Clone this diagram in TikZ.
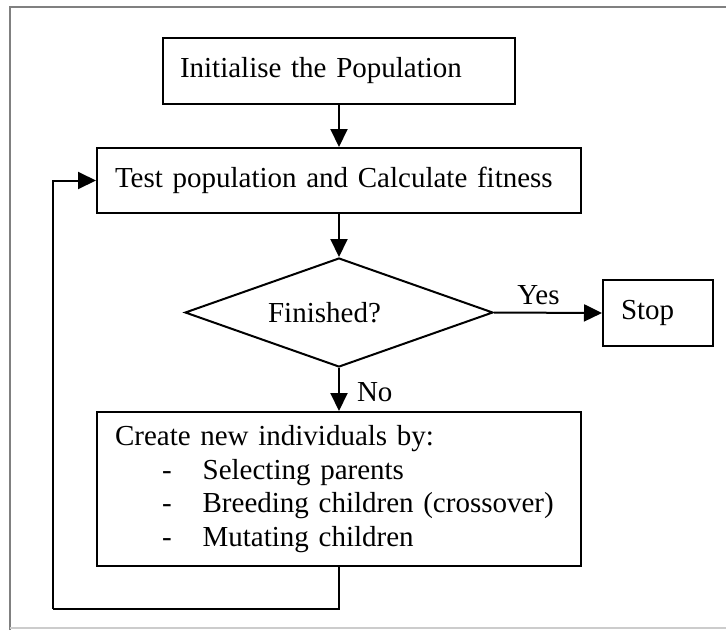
\documentclass[tikz,border=0pt]{standalone}
\usepackage{fontspec}
\setmainfont{Liberation Serif}
\usetikzlibrary{shapes.geometric,arrows.meta}
\begin{document}
\begin{tikzpicture}[x=1pt,y=-1pt,
  font=\fontsize{29}{33.7}\selectfont,
  box/.style={draw,line width=2pt,align=left,inner xsep=0pt,inner ysep=0pt},
  arr/.style={line width=2pt,-{Triangle[length=18pt,width=17pt]}},
  conn/.style={line width=2pt}]
\useasboundingbox (0,0) rectangle (726,630);
\fill[white] (0,0) rectangle (726,630);
\draw[line width=2pt,gray] (10,630) -- (10,7) -- (726,7);
\draw[line width=1.5pt,black!20] (10,628) -- (726,628);
\node[box,minimum width=352pt,minimum height=66pt,text width=318pt] (init) at (339,71) {Initialise the Population};
\node[box,minimum width=484pt,minimum height=65pt,text width=448pt] (test) at (339,180.5) {Test population and Calculate fitness};
\node[draw,line width=2pt,diamond,aspect=2.83,inner sep=0pt,minimum width=308pt,minimum height=109pt] (fin) at (339,312.5) {Finished?\hspace*{29pt}};
\node[box,minimum width=110pt,minimum height=66pt,text width=74pt] (stop) at (658,313) {Stop};
\node[box,minimum width=484pt,minimum height=154pt,text width=448pt] (create) at (339,489)
  {Create new individuals by:\\
   \hspace*{47pt}-\hspace*{31pt}Selecting parents\\
   \hspace*{47pt}-\hspace*{31pt}Breeding children (crossover)\\
   \hspace*{47pt}-\hspace*{31pt}Mutating children};
\coordinate (lb) at (53,609);
\draw[arr] (init) -- (test);
\draw[arr] (test) -- (fin);
\draw[arr] (fin.east) -- node[above,inner sep=0pt,yshift=7pt,xshift=-9.5pt] {Yes} (stop.west);
\draw[arr] (fin.south) -- node[right,inner sep=0pt,xshift=17pt,yshift=-2.5pt] {No} (create.north);
\draw[conn] (create.south) |- (lb);
\draw[arr] (lb) |- (test.west);
\end{tikzpicture}
\end{document}
